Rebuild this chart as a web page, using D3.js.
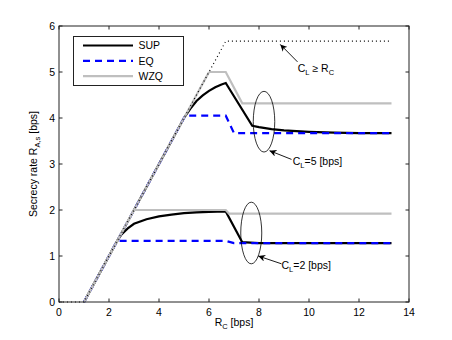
<!DOCTYPE html>
<html><head><meta charset="utf-8">
<script src="https://cdn.jsdelivr.net/npm/d3@7"></script>
<style>body{margin:0;background:#fff}svg{display:block}text{font-family:"Liberation Sans",Arial,sans-serif}</style>
</head><body><svg id="c" width="452" height="340"></svg>
<script>
// data
const xTicks = [0,2,4,6,8,10,12,14];
const yTicks = [0,1,2,3,4,5,6];
const boundX = [0,1,6.67,13.3];
const boundY = [0,0,5.67,5.67];
const wzq5X = [1,6,6.67,7.33,13.3];
const wzq5Y = [0,5,5,4.32,4.32];
const wzq2X = [1,3,6.67,6.8,13.3];
const wzq2Y = [0,2,2,1.92,1.92];
const sup5X = [1,5.0,5.25,5.5,5.75,6.0,6.25,6.5,6.67,7.73,8,8.5,9,10,11,12,13.3];
const sup5Y = [0,4.0,4.2,4.37,4.49,4.59,4.67,4.73,4.76,3.83,3.80,3.76,3.73,3.70,3.68,3.67,3.67];
const sup2X = [1,2.33,2.5,2.75,3,3.5,4,4.5,5,5.5,6,6.67,7.33,8,13.3];
const sup2Y = [0,1.33,1.47,1.6,1.7,1.8,1.86,1.9,1.93,1.95,1.96,1.97,1.30,1.28,1.28];
const eq5X = [1,5.05,6.67,7.0,13.3];
const eq5Y = [0,4.05,4.05,3.67,3.67];
const eq2X = [1,2.33,6.67,7.0,13.3];
const eq2Y = [0,1.33,1.33,1.28,1.28];
const legendLabels = ["SUP","EQ","WZQ"];

const svg = d3.select("#c");
const L=59,R=409,T=26,B=302;
const x = d3.scaleLinear().domain([0,14]).range([L,R]);
const y = d3.scaleLinear().domain([0,6]).range([B,T]);
const zip=(a,b)=>a.map((v,i)=>[v,b[i]]);
const line = d3.line().x(d=>x(d[0])).y(d=>y(d[1]));

svg.append("rect").attr("x",L).attr("y",T).attr("width",R-L).attr("height",B-T).attr("fill","#fff");

const styles = {
  sup:{stroke:"#000",w:2.2,dash:null},
  eq:{stroke:"#0000ff",w:2.2,dash:"7,5"},
  wzq:{stroke:"#bfbfbf",w:2.2,dash:null},
  bound:{stroke:"#000",w:1.2,dash:"1,3"}
};
function draw(xs,ys,s){
  svg.append("path").attr("d",line(zip(xs,ys))).attr("fill","none")
    .attr("stroke",s.stroke).attr("stroke-width",s.w).attr("stroke-dasharray",s.dash)
    .attr("stroke-linejoin","miter");
}
draw(sup5X,sup5Y,styles.sup);
draw(sup2X,sup2Y,styles.sup);
draw(eq5X,eq5Y,styles.eq);
draw(eq2X,eq2Y,styles.eq);
draw(wzq5X.slice(0,2),wzq5Y.slice(0,2),styles.wzq);
draw(wzq2X.slice(0,2),wzq2Y.slice(0,2),styles.wzq);
draw(wzq5X.slice(1),wzq5Y.slice(1),styles.wzq);
draw(wzq2X.slice(1),wzq2Y.slice(1),styles.wzq);
draw(boundX,boundY,styles.bound);

// axes box & ticks
const ax = svg.append("g");
ax.append("rect").attr("x",L).attr("y",T).attr("width",R-L).attr("height",B-T)
  .attr("fill","none").attr("stroke","#222").attr("stroke-width",1);
xTicks.forEach(t=>{
  ax.append("line").attr("x1",x(t)).attr("x2",x(t)).attr("y1",B).attr("y2",B-3.5).attr("stroke","#222");
  ax.append("line").attr("x1",x(t)).attr("x2",x(t)).attr("y1",T).attr("y2",T+3.5).attr("stroke","#222");
  ax.append("text").attr("x",x(t)).attr("y",B+14).attr("text-anchor","middle").attr("font-size",10.5).text(t);
});
yTicks.forEach(t=>{
  ax.append("line").attr("x1",L).attr("x2",L+3.5).attr("y1",y(t)).attr("y2",y(t)).attr("stroke","#222");
  ax.append("line").attr("x1",R).attr("x2",R-3.5).attr("y1",y(t)).attr("y2",y(t)).attr("stroke","#222");
  ax.append("text").attr("x",L-4).attr("y",y(t)+3.7).attr("text-anchor","end").attr("font-size",10.5).text(t);
});

// axis labels
const xl = svg.append("text").attr("x",(L+R)/2).attr("y",326).attr("text-anchor","middle").attr("font-size",10.5);
xl.append("tspan").text("R");
xl.append("tspan").attr("font-size",7.5).attr("dy",3).text("C");
xl.append("tspan").attr("dy",-3).text(" [bps]");
const yl = svg.append("text").attr("transform",`translate(37,${(T+B)/2}) rotate(-90)`).attr("text-anchor","middle").attr("font-size",10.5);
yl.append("tspan").text("Secrecy rate R");
yl.append("tspan").attr("font-size",7.5).attr("dy",3).text("A,s");
yl.append("tspan").attr("dy",-3).text(" [bps]");

// legend
const lg = svg.append("g");
lg.append("rect").attr("x",73.5).attr("y",36.5).attr("width",110).attr("height",49)
  .attr("fill","#fff").attr("stroke","#222").attr("stroke-width",1);
const lst=[styles.sup,styles.eq,styles.wzq];
legendLabels.forEach((lab,i)=>{
  const yy=45.5+i*15.3;
  lg.append("line").attr("x1",83).attr("x2",133).attr("y1",yy).attr("y2",yy)
    .attr("stroke",lst[i].stroke).attr("stroke-width",lst[i].w).attr("stroke-dasharray",lst[i].dash);
  lg.append("text").attr("x",138.5).attr("y",yy+3.7).attr("font-size",10.5).text(lab);
});

// annotations
svg.append("defs").append("marker").attr("id","ah").attr("viewBox","0 0 10 10")
  .attr("refX",10).attr("refY",5).attr("markerWidth",7).attr("markerHeight",7)
  .attr("markerUnits","userSpaceOnUse").attr("orient","auto")
  .append("path").attr("d","M0,0 L10,5 L0,10 L3,5 Z").attr("fill","#000");
function ellipse(cx,cy,rx,ry){
  svg.append("ellipse").attr("cx",x(cx)).attr("cy",y(cy))
    .attr("rx",x(rx)-x(0)).attr("ry",y(0)-y(ry)).attr("fill","none").attr("stroke","#000").attr("stroke-width",0.8);
}
function arrow(x1,y1,x2,y2){
  svg.append("line").attr("x1",x(x1)).attr("y1",y(y1)).attr("x2",x(x2)).attr("y2",y(y2))
    .attr("stroke","#000").attr("stroke-width",0.9).attr("marker-end","url(#ah)");
}
function label(px,py,sub,rest){
  const t=svg.append("text").attr("x",x(px)).attr("y",y(py)).attr("font-size",10.5);
  t.append("tspan").text("C");
  t.append("tspan").attr("font-size",7.5).attr("dy",3).text("L");
  t.append("tspan").attr("dy",-3).text(rest);
  if(sub){t.append("tspan").attr("font-size",7.5).attr("dy",3).text(sub);}
}
ellipse(8.2,3.92,0.43,0.66);
ellipse(7.69,1.5,0.42,0.67);
arrow(9.54,5.22,8.85,5.6);
arrow(9.3,3.1,8.42,3.29);
arrow(8.9,0.83,7.97,1.0);
label(9.55,5.0,"C"," \u2265 R");
label(9.35,2.97,null,"=5 [bps]");
label(8.9,0.72,null,"=2 [bps]");
</script></body></html>
